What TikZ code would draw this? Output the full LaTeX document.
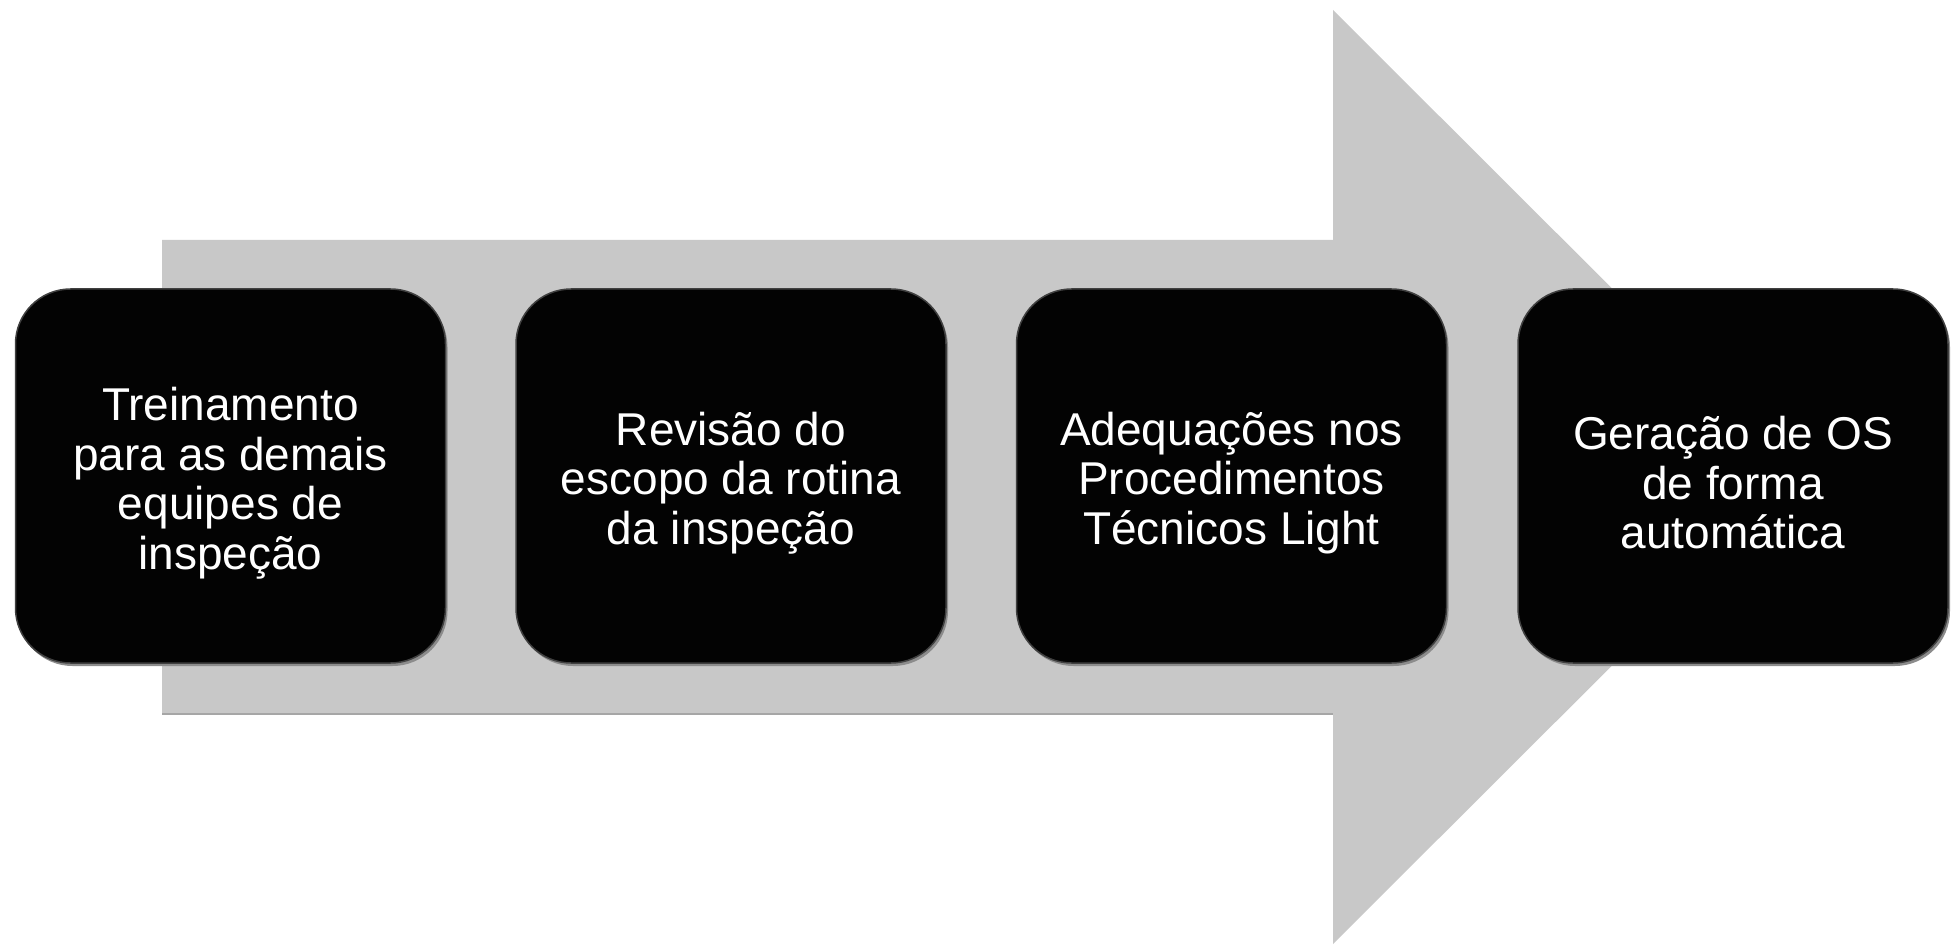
\documentclass[tikz,border=0pt]{standalone}
\usepackage{fontspec}
\setmainfont{Liberation Sans}
\definecolor{arrowgray}{RGB}{200,200,200}
\definecolor{boxblack}{RGB}{3,3,3}
\tikzset{
  stepbox/.style={rectangle, rounded corners=55pt, fill=boxblack, draw=black!75, line width=1.5pt,
    minimum width=430pt, minimum height=374pt, inner sep=0pt, text=white, align=center,
    font=\fontsize{46}{49.5}\selectfont},
  boxshadow/.style={rectangle, rounded corners=55pt, fill=black!45,
    minimum width=430pt, minimum height=374pt, inner sep=0pt}
}
\begin{document}
\begin{tikzpicture}[x=1pt,y=-1pt]
\useasboundingbox (0,0) rectangle (1954,949);
% big gray arrow
\fill[arrowgray] (162,240) -- (1333,240) -- (1333,10) -- (1801,477) -- (1333,944) -- (1333,714) -- (162,714) -- cycle;
\draw[black!35, line width=1.5pt] (162,714) -- (1333,714);
% shadows
\foreach \cx in {230.5,731,1231.5,1733}{
  \node[boxshadow] at (\cx+2,479) {};
}
% boxes
\node[stepbox] (b1) at (230.5,476) {};
\node[stepbox] (b2) at (731,476) {};
\node[stepbox] (b3) at (1231.5,476) {};
\node[stepbox] (b4) at (1733,476) {};
% texts
\node[text=white, align=center, font=\fontsize{46}{49.5}\selectfont] (t1) at ([yshift=-7pt]b1.center) {Treinamento\\para as demais\\equipes de\\inspeção};
\node[text=white, align=center, font=\fontsize{46}{49.5}\selectfont] (t2) at ([yshift=-7pt]b2.center) {Revisão do\\escopo da rotina\\da inspeção};
\node[text=white, align=center, font=\fontsize{46}{49.5}\selectfont] (t3) at ([yshift=-7pt]b3.center) {Adequações nos\\Procedimentos\\Técnicos Light};
\node[text=white, align=center, font=\fontsize{46}{49.5}\selectfont] (t4) at ([yshift=-7pt]b4.center) {Geração de OS\\de forma\\automática};
\end{tikzpicture}
\end{document}
